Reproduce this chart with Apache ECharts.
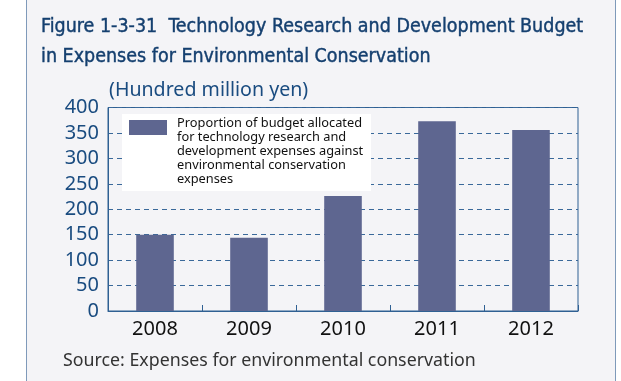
<!DOCTYPE html>
<html>
<head>
<meta charset="utf-8">
<script src="https://cdn.jsdelivr.net/npm/echarts@6/dist/echarts.min.js"></script>
<style>
  html, body { margin: 0; padding: 0; background: #ffffff; }
  #chart { width: 621px; height: 381px; }
</style>
</head>
<body>
<div id="chart"></div>
<script>
// Budget figures, hundred million yen
var years = ['2008', '2009', '2010', '2011', '2012'];
var budget = [150, 144, 226, 373, 356];
var yTicks = { min: 0, max: 400, step: 50 };
var seriesName = 'Proportion of budget allocated\nfor technology research and\ndevelopment expenses against\nenvironmental conservation\nexpenses';
var titleText = 'Figure 1-3-31  Technology Research and Development Budget\nin Expenses for Environmental Conservation';
var unitText = '(Hundred million yen)';
var sourceText = 'Source: Expenses for environmental conservation';

var barColor = '#5e6690';
var navy = '#1a4c80';
var axisBlue = '#2f6093';
var titleBlue = '#143f6f';

var chart = echarts.init(document.getElementById('chart'), null, { renderer: 'canvas' });

chart.setOption({
  animation: false,
  backgroundColor: '#ffffff',
  graphic: [
    {
      // panel behind the whole figure
      type: 'rect',
      z: -10,
      silent: true,
      shape: { x: 26.5, y: -5, width: 589, height: 400 },
      style: { fill: '#f4f4f7', stroke: '#7f9aba', lineWidth: 1 }
    },
    {
      // white box under the legend
      type: 'rect',
      z: 3,
      silent: true,
      shape: { x: 122, y: 114, width: 249, height: 77 },
      style: { fill: '#ffffff' }
    }
  ],
  title: [
    {
      text: titleText,
      left: 41,
      top: 12,
      padding: 0,
      textStyle: {
        fontFamily: "'DejaVu Sans Condensed', 'Liberation Sans Narrow', sans-serif",
        fontSize: 19.5,
        fontWeight: 'normal',
        lineHeight: 30,
        color: titleBlue,
        textBorderColor: titleBlue,
        textBorderWidth: 0.4
      }
    },
    {
      text: sourceText,
      left: 63,
      top: 352,
      padding: 0,
      textStyle: {
        fontFamily: "'Noto Sans', sans-serif",
        fontSize: 17.8,
        fontWeight: 'normal',
        lineHeight: 18,
        color: '#333333'
      }
    }
  ],
  legend: {
    left: 129,
    top: 116.5,
    padding: 0,
    selectedMode: false,
    // swatch sits at the top of a tall item so the wrapped text hangs below it
    icon: 'path://M0 0H38V15H0Z M0 63L43 63',
    itemWidth: 43,
    itemHeight: 63,
    textStyle: {
      fontFamily: "'Noto Sans', sans-serif",
      fontSize: 12.8,
      lineHeight: 14,
      color: '#111111'
    },
    data: [seriesName]
  },
  grid: {
    left: 108,
    top: 107.5,
    right: 43,
    bottom: 70,
    show: true,
    borderColor: axisBlue,
    borderWidth: 1,
    backgroundColor: 'transparent'
  },
  xAxis: {
    type: 'category',
    data: years,
    axisLine: { show: true, lineStyle: { color: axisBlue, width: 1 } },
    axisTick: { show: true, inside: true, length: 6, lineStyle: { color: axisBlue } },
    axisLabel: {
      fontFamily: "'Noto Sans', sans-serif",
      fontSize: 20,
      color: '#111111',
      margin: 8
    },
    splitLine: { show: false }
  },
  yAxis: {
    type: 'value',
    min: yTicks.min,
    max: yTicks.max,
    interval: yTicks.step,
    name: unitText,
    nameLocation: 'end',
    nameGap: 17,
    nameTextStyle: {
      fontFamily: "'Noto Sans', sans-serif",
      fontSize: 19.6,
      color: navy,
      align: 'left',
      verticalAlign: 'middle',
      padding: [0, 0, 0, 1]
    },
    axisLine: { show: true, lineStyle: { color: axisBlue, width: 1 } },
    axisTick: { show: false },
    axisLabel: {
      fontFamily: "'Noto Sans', sans-serif",
      fontSize: 20,
      color: navy,
      margin: 9
    },
    splitLine: {
      show: true,
      lineStyle: { color: '#3a699a', width: 1.2, type: [5, 4] }
    }
  },
  series: [
    {
      name: seriesName,
      type: 'bar',
      data: budget,
      barWidth: '40%',
      itemStyle: { color: barColor },
      emphasis: { disabled: true }
    }
  ]
});
</script>
</body>
</html>
